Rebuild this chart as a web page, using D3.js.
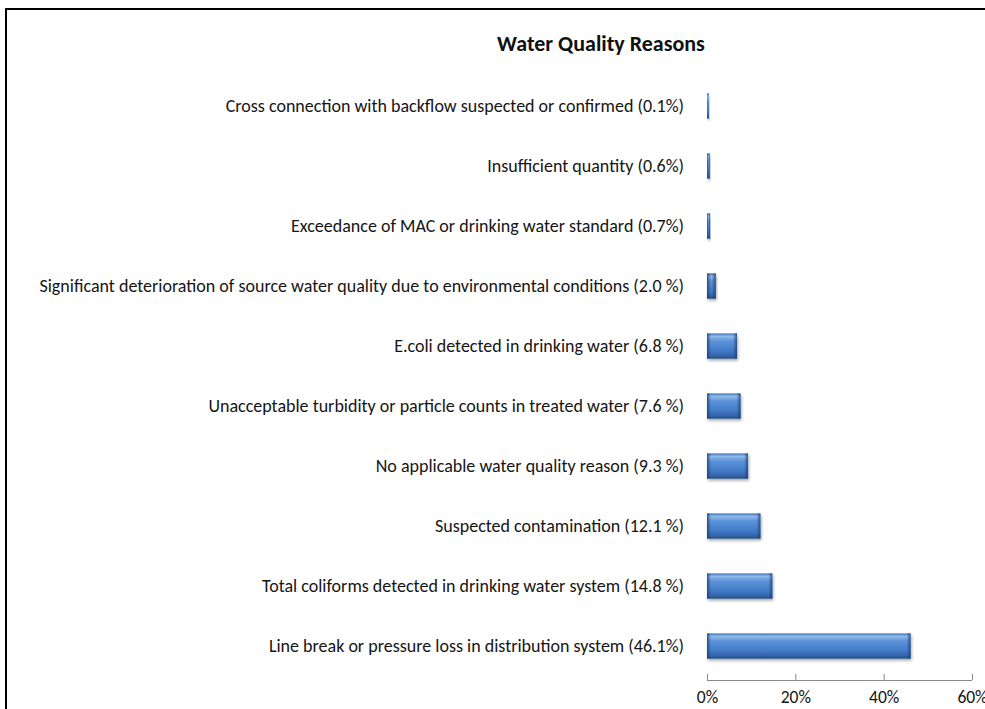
<!DOCTYPE html>
<html><head><meta charset="utf-8">
<script src="https://cdn.jsdelivr.net/npm/d3@7"></script>
<style>html,body{margin:0;padding:0;background:#fff;overflow:hidden}</style>
</head><body>
<svg id="chart" width="985" height="709"></svg>
<script>
const categories = [
  "Cross connection with backflow suspected or confirmed (0.1%)",
  "Insufficient quantity (0.6%)",
  "Exceedance of MAC or drinking water standard (0.7%)",
  "Significant deterioration of source water quality due to environmental conditions (2.0 %)",
  "E.coli detected in drinking water (6.8 %)",
  "Unacceptable turbidity or particle counts in treated water (7.6 %)",
  "No applicable water quality reason (9.3 %)",
  "Suspected contamination (12.1 %)",
  "Total coliforms detected in drinking water system (14.8 %)",
  "Line break or pressure loss in distribution system (46.1%)"
];
const values = [0.1, 0.6, 0.7, 2.0, 6.8, 7.6, 9.3, 12.1, 14.8, 46.1];
const tickValues = [0, 20, 40, 60];
const title = "Water Quality Reasons";

const svg = d3.select("#chart");
const font = "Carlito, Lato, 'Open Sans', sans-serif";

const defs = svg.append("defs");
const g1 = defs.append("linearGradient").attr("id","barGrad").attr("x1",0).attr("y1",0).attr("x2",0).attr("y2",1);
[[0,"#3f74bd"],[0.12,"#8fbaea"],[0.3,"#5d94da"],[0.7,"#4179c6"],[0.9,"#3262a8"],[1,"#21497f"]]
  .forEach(([o,c])=>g1.append("stop").attr("offset",o).attr("stop-color",c));
const g2 = defs.append("linearGradient").attr("id","endL").attr("x1",0).attr("y1",0).attr("x2",1).attr("y2",0);
g2.append("stop").attr("offset",0).attr("stop-color","#1c3f70").attr("stop-opacity",0.8);
g2.append("stop").attr("offset",1).attr("stop-color","#1c3f70").attr("stop-opacity",0);
const g3 = defs.append("linearGradient").attr("id","endR").attr("x1",1).attr("y1",0).attr("x2",0).attr("y2",0);
g3.append("stop").attr("offset",0).attr("stop-color","#1c3f70").attr("stop-opacity",0.8);
g3.append("stop").attr("offset",1).attr("stop-color","#1c3f70").attr("stop-opacity",0);
const f = defs.append("filter").attr("id","shadow").attr("x","-20%").attr("y","-50%").attr("width","140%").attr("height","200%");
f.append("feGaussianBlur").attr("in","SourceAlpha").attr("stdDeviation",1.5);
f.append("feOffset").attr("dx",1).attr("dy",2).attr("result","ob");
f.append("feComponentTransfer").append("feFuncA").attr("type","linear").attr("slope",0.35);
const fm = f.append("feMerge"); fm.append("feMergeNode"); fm.append("feMergeNode").attr("in","SourceGraphic");

// border
svg.append("rect").attr("x",6).attr("y",9).attr("width",1000).attr("height",720)
  .attr("fill","none").attr("stroke","#000").attr("stroke-width",2);

const x = d3.scaleLinear().domain([0,60]).range([707,972]);
const y = d3.scaleBand().domain(categories).range([76,676]).paddingInner(0.58).paddingOuter(0.29);

svg.append("text").attr("x",601).attr("y",51).attr("text-anchor","middle")
  .attr("font-family",font).attr("font-weight","bold").attr("font-size",22).attr("fill","#111").text(title);

// labels
svg.append("g").selectAll("text").data(categories).join("text")
  .attr("x",684).attr("y",d=>y(d)+y.bandwidth()/2).attr("dy","0.35em")
  .attr("text-anchor","end").attr("font-family",font).attr("font-size",18).attr("fill","#151515")
  .text(d=>d);

// bars
const bars = svg.append("g").selectAll("g").data(categories.map((c,i)=>({c,v:values[i]}))).join("g");
bars.append("rect").attr("x",x(0)).attr("y",d=>y(d.c)).attr("width",d=>Math.max(2,x(d.v)-x(0)))
  .attr("height",y.bandwidth()).attr("fill","url(#barGrad)").attr("filter","url(#shadow)");
bars.append("rect").attr("x",x(0)).attr("y",d=>y(d.c)).attr("width",d=>Math.min(4,(x(d.v)-x(0))/2))
  .attr("height",y.bandwidth()).attr("fill","url(#endL)");
bars.append("rect").attr("x",d=>x(d.v)-Math.min(4,(x(d.v)-x(0))/2)).attr("y",d=>y(d.c)).attr("width",d=>Math.min(4,(x(d.v)-x(0))/2))
  .attr("height",y.bandwidth()).attr("fill","url(#endR)");

// axis
const ax = svg.append("g").attr("transform","translate(0,680)")
  .call(d3.axisTop(x).tickValues(tickValues).tickSize(6).tickPadding(0).tickFormat(d=>d+"%"));
ax.select(".domain").attr("stroke","#888").attr("d","M"+x(0)+",0.5H"+x(60));
ax.selectAll(".tick line").attr("stroke","#888");
ax.selectAll(".tick text").attr("y",null).attr("dy",null).attr("transform","translate(0,23)")
  .attr("font-family",font).attr("font-size",17.5).attr("fill","#151515");
</script>
</body></html>
